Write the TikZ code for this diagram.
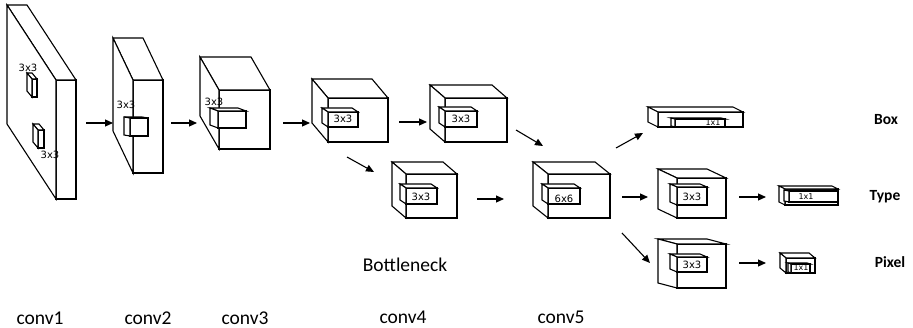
\documentclass[tikz,border=0pt]{standalone}
\usepackage{fontspec}
\setmainfont{Carlito}
\newfontfamily\dvs{DejaVu Sans}
\usetikzlibrary{arrows.meta,calc,fit}
\tikzset{
  face/.style={draw, line width=1.1pt, inner sep=0pt, outer sep=0pt, fill=white},
  edgeline/.style={line width=1.1pt, line join=miter, fill=white},
  arr/.style={line width=1.1pt, -{Triangle[length=8pt,width=7pt]}},
  lab/.style={font=\fontsize{19.5}{22}\selectfont, inner sep=0pt},
  hlab/.style={font=\bfseries\fontsize{15.5}{18}\selectfont, inner sep=0pt},
  sz/.style={font=\dvs\fontsize{10}{12}\selectfont, inner sep=0pt},
  szs/.style={font=\dvs\fontsize{8}{10}\selectfont, inner sep=0pt},
}
% name, x1, y1, x2, y2, dx, dy
\newcommand\mkbox[7]{%
  \coordinate (#1-a) at (#2,#3);
  \coordinate (#1-b) at (#4,#5);
  \node[face, fit=(#1-a)(#1-b)] (#1) {};
  \draw[edgeline] (#1.north west) -- ++(#6,#7) coordinate (#1-btl)
     -- ($(#1.north east)+(#6,#7)$) -- (#1.north east) -- cycle;
  \draw[edgeline] (#1-btl) -- ($(#1.south west)+(#6,#7)$) -- (#1.south west)
     -- (#1.north west) -- cycle;
}
\begin{document}
\begin{tikzpicture}[x=1pt,y=-1pt]
\useasboundingbox (0,0) rectangle (913,328);

% conv1
\mkbox{cA}{56}{80}{76}{199}{-49}{-75}
\mkbox{cAs}{32}{79}{37}{97}{-5}{-6}
\mkbox{cAt}{38}{130}{44}{148}{-5}{-6}
\node[sz] (lA1) at (28,68) {3x3};
\node[sz] (lA2) at (50,155) {3x3};

% conv2
\mkbox{cB}{133}{80}{163}{173}{-20}{-42}
\mkbox{cBs}{130}{118}{148}{136}{-6}{-1}
\node[sz] (lB) at (126,105) {3x3};

% conv3
\mkbox{cC}{219}{90}{270}{149}{-19}{-33}
\mkbox{cCs}{218}{111}{246}{128}{-8}{-3}
\node[sz] (lC) at (214,102) {3x3};

% conv4 top-left
\mkbox{cD}{328}{98}{388}{142}{-16}{-19}
\mkbox{cDs}{328}{112}{358}{127}{-6}{-4}
\node[sz] (lD) at (343,119) {3x3};

% conv4 top-right
\mkbox{cE}{445}{98}{507}{142}{-15}{-13}
\mkbox{cEs}{445}{111}{477}{127}{-6}{-4}
\node[sz] (lE) at (461,119) {3x3};

% conv4 bottom
\mkbox{cF}{406}{174}{457}{218}{-14}{-12}
\mkbox{cFs}{406}{188}{437}{204}{-6}{-4}
\node[sz] (lF) at (421,197) {3x3};

% conv5
\mkbox{cG}{548}{174}{610}{218}{-15}{-12}
\mkbox{cGs}{548}{188}{580}{204}{-6}{-4}
\node[sz] (lG) at (564,199) {6x6};

% Box head
\mkbox{hB}{658}{112}{743}{127}{-10}{-5}
\mkbox{hBs}{675}{119}{725}{127}{-4}{-1}
\node[szs] (lhB) at (713,123) {1x1};

% Type head
\mkbox{hT}{677}{178}{726}{218}{-19}{-9}
\mkbox{hTs}{677}{187}{707}{205}{-7}{-3}
\node[sz] (lhT) at (692,197) {3x3};
\mkbox{hT2}{785}{189}{838}{205}{-6}{-3}
\mkbox{hT2s}{789}{191}{838}{202}{-5}{-1}
\node[szs] (lhT2) at (806,197) {1x1};

% Pixel head
\mkbox{hP}{677}{244}{726}{288}{-19}{-5}
\mkbox{hPs}{677}{257}{707}{272}{-7}{-3}
\node[sz] (lhP) at (692,265) {3x3};
\mkbox{hP2}{786}{258}{815}{273}{-6}{-5}
\mkbox{hP2s}{791}{264}{810}{273}{-3}{-1}
\node[szs] (lhP2) at (801,268) {1x1};

% arrows
\coordinate (a1s) at (86,123);  \coordinate (a1e) at (113,123);
\coordinate (a2s) at (171,123); \coordinate (a2e) at (197,123);
\coordinate (a3s) at (283,123); \coordinate (a3e) at (310,123);
\coordinate (a4s) at (399,122); \coordinate (a4e) at (427,122);
\coordinate (a5s) at (347,157); \coordinate (a5e) at (374,172);
\coordinate (a6s) at (516,130); \coordinate (a6e) at (543,146);
\coordinate (a7s) at (477,199); \coordinate (a7e) at (504,199);
\coordinate (a8s) at (616,148); \coordinate (a8e) at (643,133);
\coordinate (a9s) at (622,197); \coordinate (a9e) at (648,197);
\coordinate (a10s) at (739,197); \coordinate (a10e) at (766,197);
\coordinate (a11s) at (622,233); \coordinate (a11e) at (650,263);
\coordinate (a12s) at (739,263); \coordinate (a12e) at (766,263);
\foreach \i in {1,...,12} { \draw[arr] (a\i s) -- (a\i e); }

% labels
\node[lab] (t1) at (40,318) {conv1};
\node[lab] (t2) at (148,318) {conv2};
\node[lab] (t3) at (245,318) {conv3};
\node[lab] (t4) at (403,317) {conv4};
\node[lab] (t5) at (561,317) {conv5};
\node[lab] (tb) at (405,265) {Bottleneck};
\node[hlab] (hb) at (886,120) {Box};
\node[hlab] (ht) at (885,197) {Type};
\node[hlab] (hp) at (890,262) {Pixel};
\end{tikzpicture}
\end{document}
